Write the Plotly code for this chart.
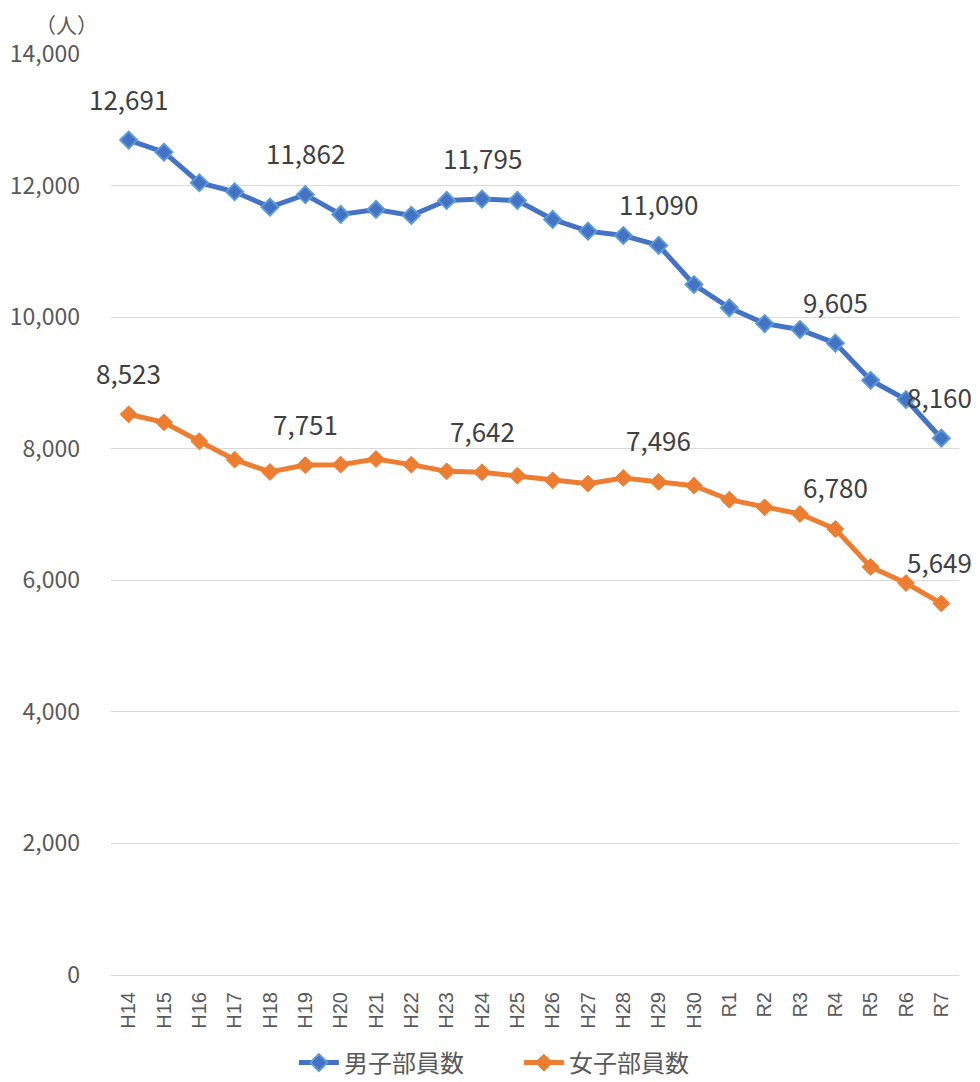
import plotly.graph_objects as go

categories = ["H14","H15","H16","H17","H18","H19","H20","H21","H22","H23","H24","H25",
              "H26","H27","H28","H29","H30","R1","R2","R3","R4","R5","R6","R7"]
male = [12691, 12508, 12043, 11906, 11672, 11862, 11561, 11637, 11546, 11774, 11795, 11774,
        11485, 11307, 11241, 11090, 10496, 10141, 9903, 9811, 9605, 9040, 8747, 8160]
female = [8523, 8401, 8113, 7834, 7647, 7751, 7758, 7844, 7758, 7656, 7642, 7590,
          7519, 7469, 7555, 7496, 7438, 7225, 7109, 7008, 6780, 6202, 5958, 5649]
label_idx = [0, 5, 10, 15, 20, 23]
male_name = "男子部員数"
female_name = "女子部員数"

FONT = "Noto Sans CJK JP"
W, H = 972, 1074  # page body has an 8px margin

fig = go.Figure()
fig.add_trace(go.Scatter(
    x=categories, y=male, name=male_name, mode="lines+markers",
    line=dict(color="#4472C4", width=5),
    marker=dict(symbol="diamond", size=13, color="#4472C4",
                line=dict(color="#5B9BD5", width=2)),
))
fig.add_trace(go.Scatter(
    x=categories, y=female, name=female_name, mode="lines+markers",
    line=dict(color="#ED7D31", width=5),
    marker=dict(symbol="diamond", size=13, color="#ED7D31",
                line=dict(color="#ED7D31", width=1)),
))

annotations = []
for series in (male, female):
    for i in label_idx:
        annotations.append(dict(
            x=categories[i], y=series[i], xref="x", yref="y",
            text=f"{series[i]:,}", showarrow=False, yshift=42,
            xshift=-2 if i == len(categories) - 1 else 0,
            font=dict(family=FONT, size=26, color="#404040"),
        ))
annotations.append(dict(
    x=(66 - 111) / 848, y=(975 - 24) / 921, xref="paper", yref="paper",
    text="（人）", showarrow=False, xanchor="center", yanchor="middle",
    font=dict(family=FONT, size=21, color="#595959"),
))

fig.update_layout(
    width=W, height=H,
    margin=dict(l=103, r=21, t=46, b=107),
    paper_bgcolor="white", plot_bgcolor="white",
    showlegend=True,
    legend=dict(orientation="h", x=0.481, xanchor="center",
                yref="container", y=1 - 1055 / H, yanchor="middle",
                font=dict(family=FONT, size=24, color="#595959"),
                itemwidth=40, traceorder="normal", entrywidth=170),
    annotations=annotations,
    xaxis=dict(
        type="category", range=[-0.5, 23.5], tickangle=-90, automargin=False,
        showgrid=False, showline=True, linecolor="#D9D9D9", linewidth=1,
        tickfont=dict(family="Liberation Sans", size=20, color="#595959"),
        ticks="", fixedrange=True, ticklabelstandoff=8,
    ),
    yaxis=dict(
        range=[0, 14000], dtick=2000, tickformat=",", automargin=False,
        showgrid=True, gridcolor="#D9D9D9", gridwidth=1,
        zeroline=True, zerolinecolor="#D9D9D9", showline=False,
        tickfont=dict(family=FONT, size=23, color="#595959"),
        ticks="", ticklabelstandoff=30,
    ),
)

fig.write_html("out.html")
